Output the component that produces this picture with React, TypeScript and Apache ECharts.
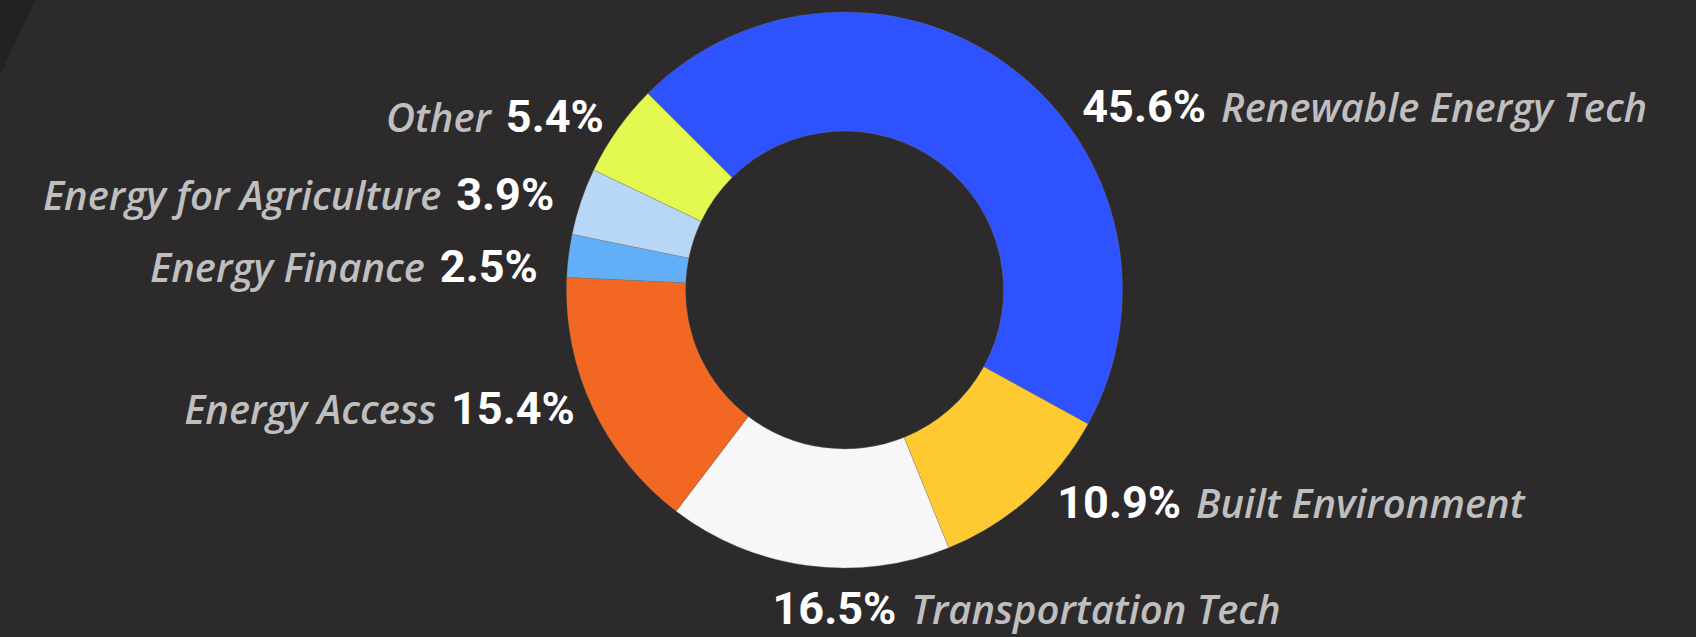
import React, { useEffect, useRef } from "react";
import * as echarts from "echarts";

// ---- data ----
const categories = [
  "Renewable Energy Tech",
  "Built Environment",
  "Transportation Tech",
  "Energy Access",
  "Energy Finance",
  "Energy for Agriculture",
  "Other",
];
const shares = [45.6, 10.9, 16.5, 15.4, 2.5, 3.9, 5.4];

// ---- styles ----
const sliceColors = ["#2f52ff", "#ffca31", "#f7f7f7", "#f26822", "#62aff7", "#b8d7f7", "#e3f94f"];
const labelSides = ["right", "right", "right", "left", "left", "left", "left"];
const labelNudges = [
  [57, 57],
  [13, -13],
  [-32, 20],
  [3, -9],
  [-8, 14],
  [-5, 0],
  [5, 0],
];

const W = 1696;
const H = 637;
const CENTER = [844.5, 290];
const RADIUS = [159, 278];
const START_ANGLE = 135;
const LABEL_R = 301;
const BG = "#2d2a2b";

export default function App() {
  const ref = useRef<HTMLDivElement>(null);

  useEffect(() => {
    document.body.style.margin = "0";
    const chart = echarts.init(ref.current!, null, { renderer: "svg" });

    const total = shares.reduce((a, b) => a + b, 0);
    const mids: number[] = [];
    let acc = 0;
    shares.forEach((v) => {
      mids.push(((acc + v / 2) / total) * Math.PI * 2);
      acc += v;
    });
    const startClock = ((90 - START_ANGLE) * Math.PI) / 180;

    chart.setOption({
      animation: false,
      backgroundColor: BG,
      graphic: [
        {
          type: "polygon",
          silent: true,
          shape: { points: [[0, 0], [35, 0], [0, 75]] },
          style: { fill: "#242122" },
        },
      ],
      series: [
        {
          type: "pie",
          center: CENTER,
          radius: RADIUS,
          startAngle: START_ANGLE,
          clockwise: true,
          avoidLabelOverlap: false,
          silent: true,
          itemStyle: { borderColor: "rgba(120,120,120,0.6)", borderWidth: 0.5 },
          emphasis: { disabled: true },
          labelLine: { show: false },
          label: {
            show: true,
            position: "outside",
            formatter: (p: any) => {
              const v = Number(p.value).toFixed(1) + "%";
              return labelSides[p.dataIndex] === "right"
                ? `{v|${v}}{g|}{n|${p.name}}`
                : `{n|${p.name}}{g|}{v|${v}}`;
            },
            rich: {
              v: {
                fontFamily: "Roboto, 'Liberation Sans Narrow', sans-serif",
                fontWeight: "bold",
                fontSize: 45,
                color: "#ffffff",
                lineHeight: 40,
              },
              n: {
                fontFamily: "'Open Sans', sans-serif",
                fontStyle: "italic",
                fontWeight: 600,
                fontSize: 40,
                color: "#bfbfbf",
                lineHeight: 40,
              },
              g: { width: 15 },
            },
          },
          labelLayout: (params: any) => {
            const i = params.dataIndex;
            const a = startClock + mids[i];
            const x = CENTER[0] + LABEL_R * Math.sin(a) + labelNudges[i][0];
            const y = CENTER[1] - LABEL_R * Math.cos(a) + labelNudges[i][1];
            return {
              x,
              y,
              align: labelSides[i] === "right" ? "left" : "right",
              verticalAlign: "middle",
            };
          },
          data: categories.map((name, i) => ({
            name,
            value: shares[i],
            itemStyle: { color: sliceColors[i] },
          })),
        },
      ],
    });

    return () => chart.dispose();
  }, []);

  return (
    <div style={{ position: "fixed", left: 0, top: 0, width: W, height: H, background: BG }}>
      <div ref={ref} style={{ width: W, height: H }} />
    </div>
  );
}
